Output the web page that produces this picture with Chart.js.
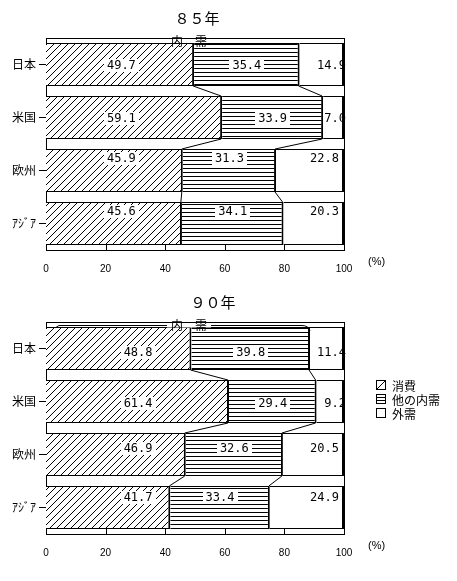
<!DOCTYPE html>
<html><head><meta charset="utf-8">
<script src="https://cdn.jsdelivr.net/npm/chart.js@4"></script>
<style>
html,body{margin:0;padding:0;background:#fff;width:457px;height:581px;overflow:hidden}
.wrap{position:absolute;left:0;width:457px;height:290px}
canvas{display:block}
</style></head><body>
<div class="wrap" style="top:0"><canvas id="c1" width="457" height="290"></canvas></div>
<div class="wrap" style="top:284px"><canvas id="c2" width="457" height="290"></canvas></div>
<script>
// ---- data ----
const categories = ['日本', '米国', '欧州', 'ｱｼﾞｱ'];
const seriesNames = ['消費', '他の内需', '外需'];
const consumption85 = [49.7, 59.1, 45.9, 45.6];
const otherDomestic85 = [35.4, 33.9, 31.3, 34.1];
const external85 = [14.9, 7.0, 22.8, 20.3];
const consumption90 = [48.8, 61.4, 46.9, 41.7];
const otherDomestic90 = [39.8, 29.4, 32.6, 33.4];
const external90 = [11.4, 9.2, 20.5, 24.9];
const xTicks = [0, 20, 40, 60, 80, 100];
const titles = ['８５年', '９０年'];
const domesticLabel = '内　需';
const unitLabel = '(%)';

// ---- patterns ----
function makePattern(kind) {
  const c = document.createElement('canvas');
  const ctx = c.getContext('2d');
  if (kind === 'diag') {
    c.width = 7; c.height = 7;
    ctx.fillStyle = '#fff'; ctx.fillRect(0, 0, 7, 7);
    ctx.fillStyle = '#000';
    for (let i = 0; i < 7; i++) ctx.fillRect(i, 6 - i, 1, 1);
  } else if (kind === 'horiz') {
    c.width = 4; c.height = 4;
    ctx.fillStyle = '#fff'; ctx.fillRect(0, 0, 4, 4);
    ctx.fillStyle = '#000'; ctx.fillRect(0, 0, 4, 1);
  } else {
    c.width = 2; c.height = 2;
    ctx.fillStyle = '#fff'; ctx.fillRect(0, 0, 2, 2);
  }
  return ctx.createPattern(c, 'repeat');
}
const patterns = [makePattern('diag'), makePattern('horiz'), makePattern('white')];

const LABEL_FONT = '12px "DejaVu Sans Mono"';
const JP_FONT = '"Noto Sans CJK JP"';

const decor = {
  id: 'decor',
  afterDatasetsDraw(chart, args, o) {
    const ctx = chart.ctx;
    const xs = chart.scales.x;
    const ca = chart.chartArea;
    ctx.save();
    // connector lines between bars
    ctx.strokeStyle = '#000'; ctx.lineWidth = 1;
    const n = categories.length;
    for (let d = 0; d < 2; d++) {
      const meta = chart.getDatasetMeta(d);
      for (let i = 0; i < n - 1; i++) {
        const a = meta.data[i], b = meta.data[i + 1];
        ctx.beginPath();
        ctx.moveTo(a.x - 1, a.y + a.height / 2);
        ctx.lineTo(b.x - 1, b.y - b.height / 2);
        ctx.stroke();
      }
    }
    // value labels
    ctx.font = LABEL_FONT;
    ctx.textBaseline = 'middle';
    chart.data.datasets.forEach((ds, d) => {
      const meta = chart.getDatasetMeta(d);
      meta.data.forEach((el, i) => {
        const v = ds.data[i];
        const txt = v.toFixed(1);
        const w = ctx.measureText(txt).width;
        const y = Math.round(el.y + o.dy[i]);
        let cx;
        if (d === 0) cx = xs.getPixelForValue(o.firstLabelAt);
        else if (d === 1) cx = (el.x + el.base) / 2;
        else {
          const rightEdge = v < 16 ? ca.right + 2 : ca.right - 5;
          cx = rightEdge - w / 2;
        }
        if (d < 2) {
          ctx.fillStyle = '#fff';
          ctx.fillRect(Math.round(cx - w / 2 - 3), y - 6, Math.round(w + 6), 13);
        }
        ctx.fillStyle = '#000';
        ctx.textAlign = 'center';
        ctx.fillText(txt, cx, y + 1);
      });
    });
    ctx.restore();
  },
  afterDraw(chart, args, o) {
    const ctx = chart.ctx;
    const xs = chart.scales.x;
    const ca = chart.chartArea;
    ctx.save();
    ctx.strokeStyle = '#000'; ctx.fillStyle = '#000';
    // frame: top and right
    ctx.lineWidth = 1;
    ctx.beginPath();
    ctx.moveTo(ca.left, Math.round(ca.top) + 0.5);
    ctx.lineTo(ca.right + 1, Math.round(ca.top) + 0.5);
    ctx.stroke();
    ctx.beginPath();
    ctx.moveTo(Math.round(ca.right) + 0.5, ca.top);
    ctx.lineTo(Math.round(ca.right) + 0.5, ca.bottom);
    ctx.stroke();
    // inner ticks on x axis
    xTicks.forEach(v => {
      if (v === xTicks[0] || v === xTicks[xTicks.length - 1]) return;
      const px = Math.round(xs.getPixelForValue(v)) + 0.5;
      ctx.beginPath();
      ctx.moveTo(px, ca.bottom);
      ctx.lineTo(px, ca.bottom - 5);
      ctx.stroke();
    });
    // 内需 bracket / label
    const meta1 = chart.getDatasetMeta(1);
    const first = meta1.data[0];
    const by = Math.round(ca.top + (first.y - first.height / 2 - ca.top) / 2) + 0.5;
    ctx.font = '12px ' + JP_FONT;
    ctx.textAlign = 'center';
    ctx.textBaseline = 'middle';
    const tx = xs.getPixelForValue(48);
    if (o.bracket) {
      const x0 = xs.getPixelForValue(4);
      const x1 = first.x - 8;
      ctx.beginPath();
      ctx.moveTo(x0 - 2, by + 2);
      ctx.lineTo(x0 + 1, by);
      ctx.lineTo(x1, by);
      ctx.quadraticCurveTo(x1 + 6, by, x1 + 8, by + 5);
      ctx.stroke();
      const tw = ctx.measureText(domesticLabel).width;
      ctx.fillStyle = '#fff';
      ctx.fillRect(tx - tw / 2 - 4, by - 2, tw + 8, 4);
      ctx.fillStyle = '#000';
    }
    ctx.fillText(domesticLabel, tx, by);
    // title
    ctx.font = '15px ' + JP_FONT;
    ctx.fillText(o.title, o.titleX, 18);
    // unit
    ctx.font = '11px "Liberation Sans"';
    ctx.textAlign = 'left';
    ctx.fillText(unitLabel, ca.right + 24, ca.bottom + 12);
    // legend
    if (o.legend) {
      ctx.font = '12px ' + JP_FONT;
      ctx.lineWidth = 1;
      seriesNames.forEach((name, k) => {
        const cy = 101 + k * 14;
        const bx = 376.5, bt = cy - 4.5;
        ctx.strokeRect(bx, bt, 9, 9);
        ctx.beginPath();
        if (k === 0) { ctx.moveTo(bx, bt + 9); ctx.lineTo(bx + 9, bt); }
        if (k === 1) { ctx.moveTo(bx, bt + 3); ctx.lineTo(bx + 9, bt + 3); ctx.moveTo(bx, bt + 6); ctx.lineTo(bx + 9, bt + 6); }
        ctx.stroke();
        ctx.fillText(name, 392, cy + 1);
      });
    }
    ctx.restore();
  }
};

function build(id, series, o) {
  return new Chart(document.getElementById(id), {
    type: 'bar',
    data: {
      labels: categories,
      datasets: series.map((d, k) => ({
        label: seriesNames[k],
        data: d,
        backgroundColor: patterns[k],
        borderColor: '#000',
        borderWidth: { top: 1, bottom: 1, left: 0, right: 2 },
        borderSkipped: false,
        inflateAmount: 0,
        categoryPercentage: 1,
        barThickness: 43
      }))
    },
    options: {
      indexAxis: 'y',
      responsive: false,
      animation: false,
      devicePixelRatio: 1,
      layout: { padding: { top: 38, right: 113, left: 0, bottom: 0 } },
      plugins: { legend: { display: false }, tooltip: { enabled: false }, title: { display: false }, decor: o },
      scales: {
        x: {
          stacked: true, min: 0, max: 100,
          afterBuildTicks(s) { s.ticks = xTicks.map(v => ({ value: v })); },
          ticks: { color: '#000', font: { family: 'Liberation Sans', size: 10 }, padding: 13, maxRotation: 0, autoSkip: false },
          grid: { display: false, drawTicks: false },
          border: { display: true, color: '#000', width: 1 },
          afterFit(s) { s.height = 40; }
        },
        y: {
          stacked: true,
          ticks: { color: '#000', font: { family: 'Noto Sans CJK JP', size: 12 }, padding: 3 },
          grid: { drawOnChartArea: false, drawTicks: true, tickLength: 7, color: '#000', offset: false },
          border: { display: true, color: '#000', width: 1 },
          afterFit(s) { s.width = 46; }
        }
      }
    },
    plugins: [decor]
  });
}

build('c1', [consumption85, otherDomestic85, external85],
  { title: titles[0], titleX: 197, firstLabelAt: 25.3, dy: [0, 0, -13, -13], bracket: false, legend: false });
build('c2', [consumption90, otherDomestic90, external90],
  { title: titles[1], titleX: 213, firstLabelAt: 30.9, dy: [3, 1, -7, -11], bracket: true, legend: true });
</script>
</body></html>
